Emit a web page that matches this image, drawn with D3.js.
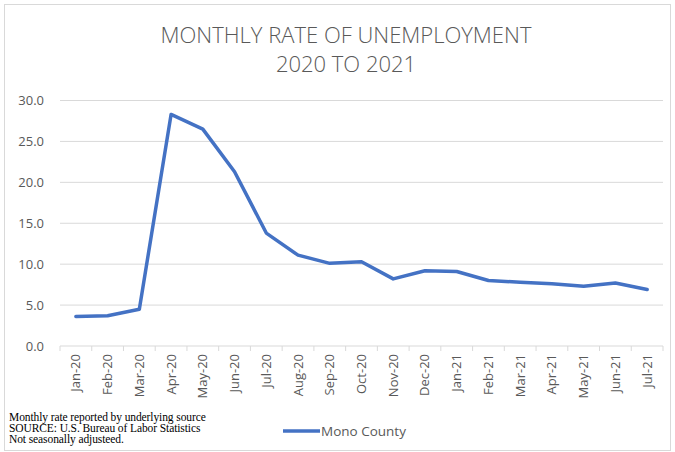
<!DOCTYPE html>
<html>
<head>
<meta charset="utf-8">
<script src="https://cdn.jsdelivr.net/npm/d3@7/dist/d3.min.js"></script>
<style>
  body { margin: 0; background: #fff; }
  svg { display: block; }
</style>
</head>
<body>
<svg id="chart" width="675" height="452"></svg>
<script>
// data
const months = ["Jan-20", "Feb-20", "Mar-20", "Apr-20", "May-20", "Jun-20", "Jul-20", "Aug-20", "Sep-20", "Oct-20",
  "Nov-20", "Dec-20", "Jan-21", "Feb-21", "Mar-21", "Apr-21", "May-21", "Jun-21", "Jul-21"];
const monoCounty = [3.6, 3.7, 4.5, 28.3, 26.5, 21.3, 13.8, 11.1, 10.1, 10.3, 8.2, 9.2, 9.1, 8.0, 7.8, 7.6, 7.3, 7.7, 6.9];
const yTicks = [0, 5, 10, 15, 20, 25, 30];
const titleLines = ["MONTHLY RATE OF UNEMPLOYMENT", "2020 TO 2021"];
const notes = ["Monthly rate reported by underlying source", "SOURCE:  U.S. Bureau of Labor Statistics", "Not seasonally adjusteed."];
const seriesName = "Mono County";

const svg = d3.select("#chart");
const margin = {top: 100.5, right: 12, bottom: 106, left: 60};
const width = 675, height = 452;

// chart border
svg.append("rect")
  .attr("x", 4.5).attr("y", 4.5)
  .attr("width", 666).attr("height", 446)
  .attr("fill", "#fff")
  .attr("stroke", "#d9d9d9");

// title
svg.append("g").selectAll("text")
  .data(titleLines)
  .enter().append("text")
  .attr("x", 346)
  .attr("y", (d, i) => 43 + i * 29)
  .attr("text-anchor", "middle")
  .attr("font-family", "'Open Sans', sans-serif")
  .attr("font-weight", 300)
  .attr("font-size", "22px")
  .attr("fill", "#595959")
  .text(d => d);

let x = d3.scaleBand()
  .domain(months)
  .range([margin.left, width - margin.right]);
let y = d3.scaleLinear()
  .domain([0, 30])
  .range([height - margin.bottom, margin.top]);

// gridlines
svg.append("g")
  .selectAll("line")
  .data(yTicks.slice(1))
  .enter().append("line")
  .attr("x1", margin.left).attr("x2", width - margin.right)
  .attr("y1", d => y(d)).attr("y2", d => y(d))
  .attr("stroke", "#d9d9d9")
  .attr("stroke-width", 1);

// y axis labels
let yAxis = svg.append("g")
  .attr("transform", `translate(${margin.left - 13},0)`)
  .call(d3.axisLeft(y).tickValues(yTicks).tickSize(0).tickFormat(d3.format(".1f")));
yAxis.select(".domain").remove();
yAxis.selectAll("text")
  .attr("font-family", "'Open Sans', sans-serif")
  .attr("font-size", "13px")
  .attr("fill", "#595959");

// x axis, ticks between categories
let xAxis = svg.append("g")
  .attr("transform", `translate(0,${y(0)})`);
xAxis.append("line")
  .attr("x1", margin.left).attr("x2", width - margin.right)
  .attr("stroke", "#d9d9d9");
xAxis.selectAll("line.tick")
  .data(months.concat(["end"]))
  .enter().append("line")
  .attr("class", "tick")
  .attr("x1", (d, i) => margin.left + i * x.step())
  .attr("x2", (d, i) => margin.left + i * x.step())
  .attr("y1", 0).attr("y2", 5)
  .attr("stroke", "#d9d9d9");
xAxis.selectAll("text")
  .data(months)
  .enter().append("text")
  .attr("transform", d => `translate(${x(d) + x.bandwidth() / 2 + 4.5},8) rotate(-90)`)
  .attr("text-anchor", "end")
  .attr("font-family", "'Open Sans', sans-serif")
  .attr("font-size", "13px")
  .attr("fill", "#595959")
  .text(d => d);

// series line
let line = d3.line()
  .x((d, i) => x(months[i]) + x.bandwidth() / 2)
  .y(d => y(d));
svg.append("path")
  .datum(monoCounty)
  .attr("d", line)
  .attr("fill", "none")
  .attr("stroke", "#4472c4")
  .attr("stroke-width", 3.5)
  .attr("stroke-linejoin", "round")
  .attr("stroke-linecap", "round");

// footnote
svg.append("g").selectAll("text")
  .data(notes)
  .enter().append("text")
  .attr("x", 9)
  .attr("y", (d, i) => 421 + i * 11)
  .attr("font-family", "'Liberation Serif', serif")
  .attr("font-size", "11.5px")
  .attr("letter-spacing", "-0.1px")
  .attr("fill", "#000")
  .text(d => d);

// legend
let legend = svg.append("g").attr("transform", "translate(283,431)");
legend.append("line")
  .attr("x1", 0).attr("x2", 37)
  .attr("stroke", "#4472c4")
  .attr("stroke-width", 3.5);
legend.append("text")
  .attr("x", 38).attr("y", 5)
  .attr("font-family", "'Open Sans', sans-serif")
  .attr("font-size", "13.5px")
  .attr("fill", "#595959")
  .text(seriesName);
</script>
</body>
</html>
